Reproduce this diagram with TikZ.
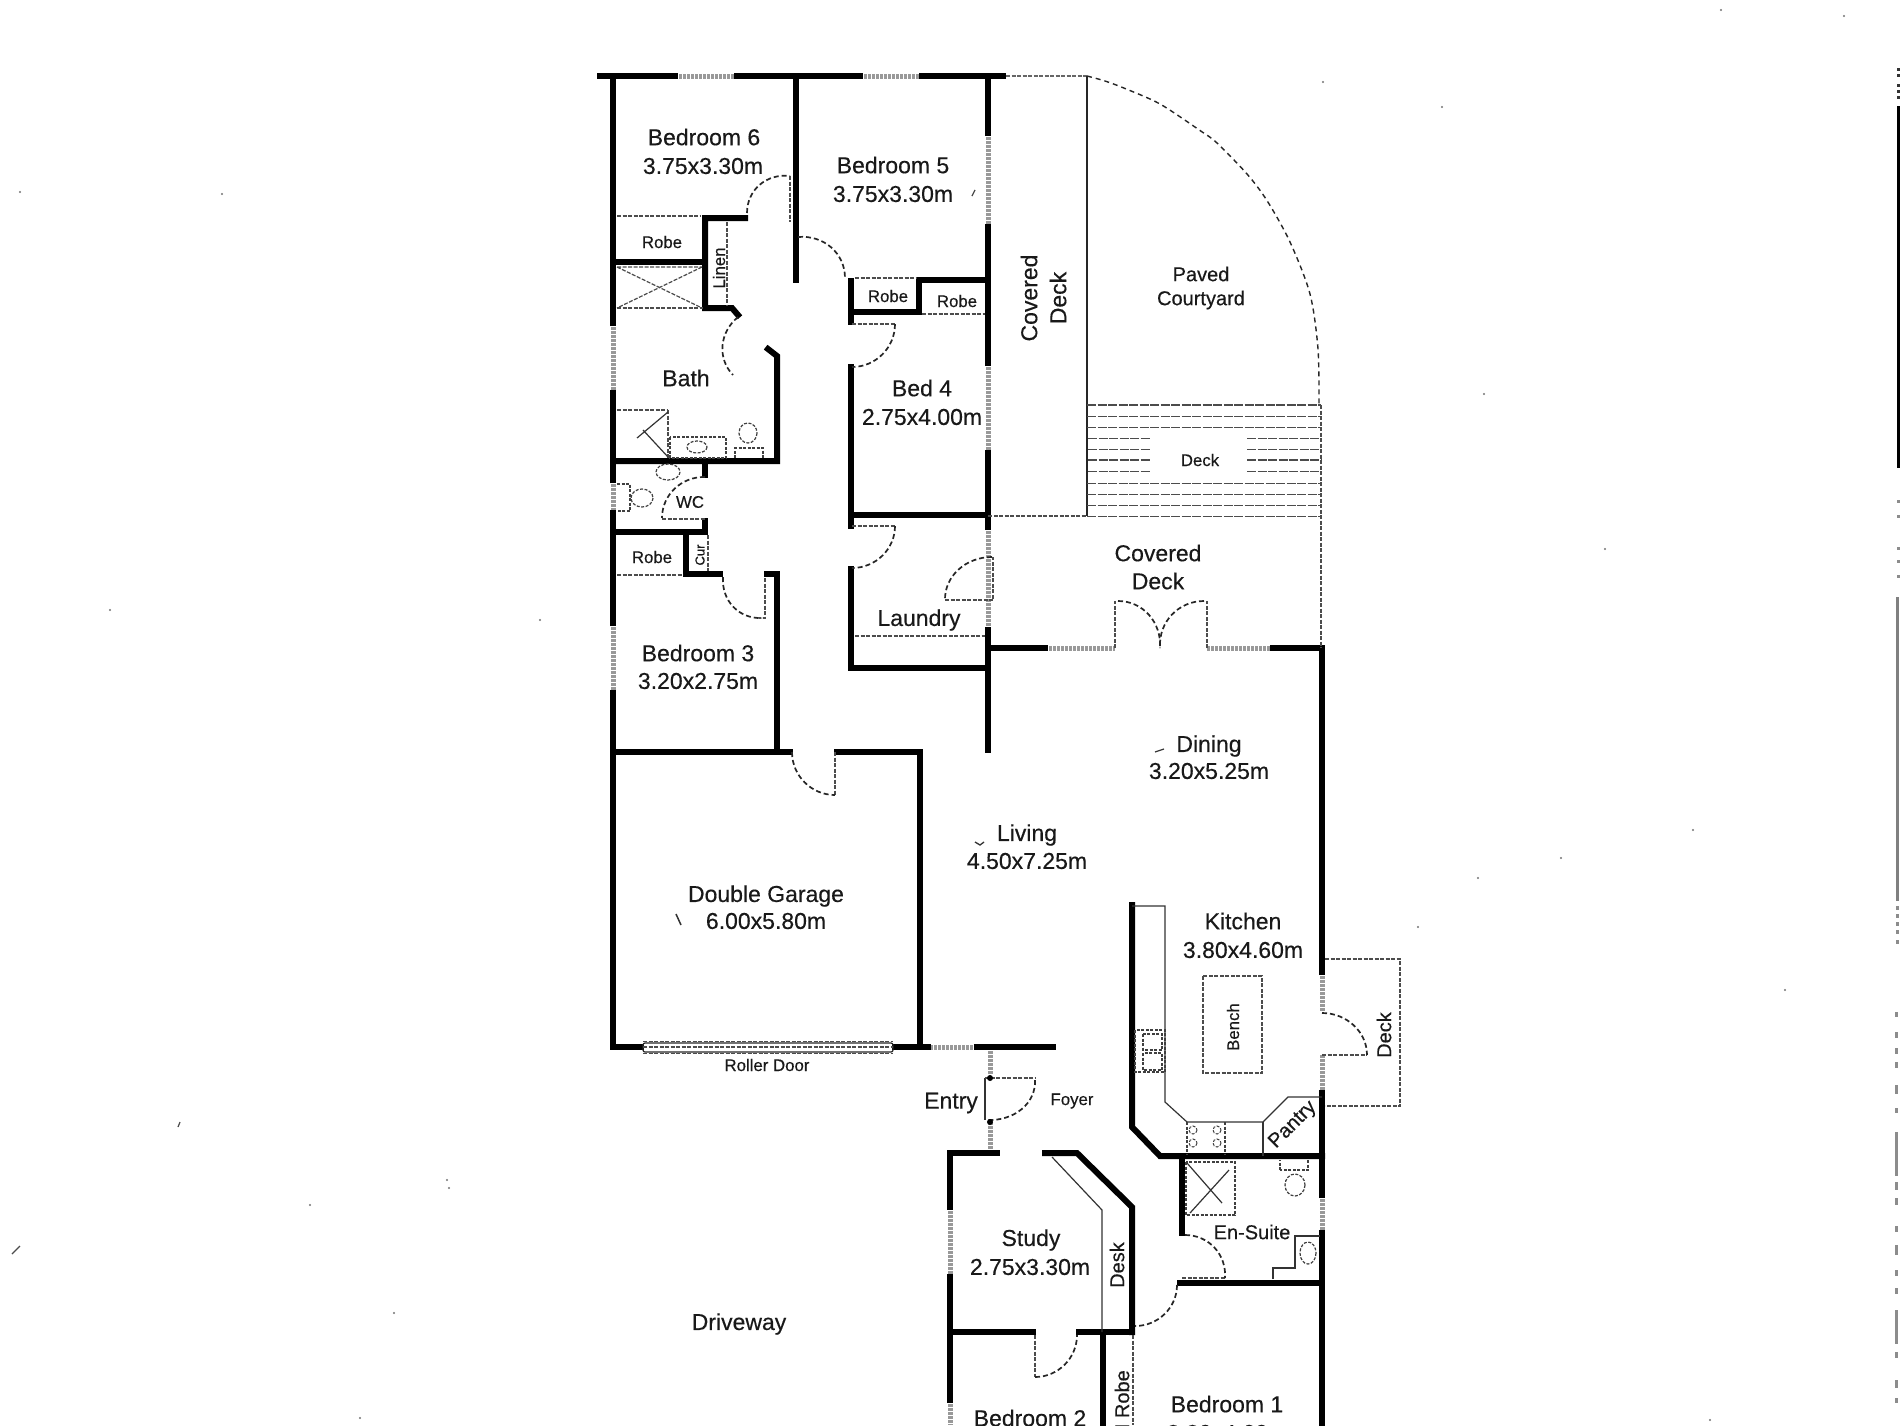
\documentclass[tikz,border=0pt]{standalone}
\usepackage{fontspec}
\setmainfont[FakeBold=0.35]{Liberation Sans}
\newcommand\dooarc[6]{\draw[doorarc] (#1,#2) .. controls ({#1+.55*(#3-#5)},{#2+.55*(#4-#6)}) and ({#3+.55*(#1-#5)},{#4+.55*(#2-#6)}) .. (#3,#4);}
\tikzset{
 wall/.style={line width=6pt,black,line cap=rect,line join=miter},
 glazing/.style={line width=5pt,black!40,dash pattern=on 2.5pt off 1.5pt},
 thinln/.style={line width=1.2pt,black!80},
 dashln/.style={line width=1.2pt,black!70,dash pattern=on 4pt off 1.5pt},
 doorarc/.style={line width=1.7pt,black!85,dash pattern=on 5pt off 3pt},
 fixture/.style={line width=1.2pt,black!75,dash pattern=on 3pt off 1.5pt},
 lblL/.style={inner sep=0pt,text=black!90,font=\fontsize{23}{26}\selectfont},
 lblM/.style={inner sep=0pt,text=black!90,font=\fontsize{20}{23}\selectfont},
 lblS/.style={inner sep=0pt,text=black!90,font=\fontsize{16.8}{19}\selectfont},
}
\begin{document}
\begin{tikzpicture}[x=1pt,y=-1pt]
\useasboundingbox (0,0) rectangle (1900,1425);
\clip (0,0) rectangle (1900,1425);
\fill[white] (0,0) rectangle (1900,1425);

% --- glazing (windows)
\foreach \a/\b/\c/\d in {675/76/737/76, 860/76/922/76,
  613/323/613/393, 613/480/613/513, 613/623/613/693,
  988/133/988/227, 988/363/988/453, 988/527/988/630,
  1045/648/1115/648, 1207/648/1273/648,
  1322/972/1322/1012, 1322/1055/1322/1093, 1322/1195/1322/1233,
  950/1207/950/1277, 950/1400/950/1425,
  990/1047/990/1075, 990/1122/990/1150, 930/1047/975/1047}
  \draw[glazing] (\a,\b) -- (\c,\d);

% --- walls, top block
\draw[wall] (600,76) -- (675,76);
\draw[wall] (737,76) -- (860,76);
\draw[wall] (922,76) -- (1003,76);
\draw[wall] (613,76) -- (613,323);
\draw[wall] (613,393) -- (613,480);
\draw[wall] (613,513) -- (613,623);
\draw[wall] (613,693) -- (613,1047);
\draw[wall] (796,76) -- (796,280);
\draw[wall] (988,76) -- (988,133);
\draw[wall] (988,227) -- (988,363);
\draw[wall] (988,453) -- (988,527);
\draw[wall] (988,630) -- (988,750);
% bedroom 6 robe / linen
\draw[wall] (745,218) -- (705,218) -- (705,308) -- (732,308) -- (738,315);
\draw[wall] (613,262) -- (705,262);
% bath
\draw[wall] (768,349) -- (777,356) -- (777,461) -- (613,461);
\draw[wall] (705,461) -- (705,475);
% WC / lower robe
\draw[wall] (705,521) -- (705,532) -- (613,532);
\draw[wall] (686,532) -- (686,574) -- (720,574);
\draw[wall] (767,574) -- (777,574) -- (777,752);
% garage
\draw[wall] (613,752) -- (790,752);
\draw[wall] (837,752) -- (920,752) -- (920,1047);
\draw[wall] (613,1047) -- (641,1047);
\draw[wall] (895,1047) -- (928,1047);
\draw[wall] (977,1047) -- (1053,1047);
% bed 5 robes, bed 4, laundry
\draw[wall] (851,322) -- (851,281);
\draw[wall] (851,312) -- (919,312) -- (919,280) -- (988,280);
\draw[wall] (851,367) -- (851,515) -- (988,515);
\draw[wall] (851,515) -- (851,526);
\draw[wall] (851,569) -- (851,668) -- (988,668);
% dining and kitchen
\draw[wall] (988,648) -- (1045,648);
\draw[wall] (1273,648) -- (1322,648) -- (1322,972);
\draw[wall] (1322,1093) -- (1322,1195);
\draw[wall] (1322,1233) -- (1322,1425);
\draw[wall] (1132,905) -- (1132,1127) -- (1160,1156) -- (1322,1156);
\draw[wall] (1182,1156) -- (1182,1233);
\draw[wall] (1180,1283) -- (1322,1283);
% study
\draw[wall] (997,1153) -- (950,1153) -- (950,1207);
\draw[wall] (950,1277) -- (950,1400);
\draw[wall] (1045,1153) -- (1077,1153) -- (1132,1207) -- (1132,1332);
\draw[wall] (950,1332) -- (1033,1332);
\draw[wall] (1079,1332) -- (1132,1332);
\draw[wall] (1103,1332) -- (1103,1430);

% --- roller door
\draw[line width=1.2pt,black!85,rounded corners=2pt] (643,1043) rectangle (893,1052);
\draw[dashln,line width=1pt] (643,1041) -- (893,1041);
\draw[dashln,line width=1.4pt] (643,1047) -- (893,1047);
\draw[dashln,line width=1pt] (643,1053) -- (893,1053);

% --- outdoor: courtyard, decks
\draw[dashln,black!60] (1006,76) -- (1087,76);
\draw[line width=1.6pt,black!85] (1087,76) -- (1087,516);
\draw[doorarc,dash pattern=on 5pt off 4pt,line width=1.4pt] plot[smooth] coordinates {(1087,76) (1105,81) (1125,88.5) (1160,104) (1200,130.5) (1217,143) (1247,174) (1267,200.6) (1290,242) (1310,294) (1318,349) (1319,405)};
\foreach \yy/\ww in {405/1.5, 416/0.8, 427.5/1.5, 483/0.8, 494.5/1.4, 505.5/0.8, 516/1.0}
  \draw[dashln,line width=\ww pt,dash pattern=on 9pt off 1.5pt] (1087,\yy) -- (1321,\yy);
\foreach \yy/\ww in {438/0.8, 449/0.8, 460/1.4, 471/0.8} {
  \draw[dashln,line width=\ww pt,dash pattern=on 9pt off 1.5pt] (1088,\yy) -- (1150,\yy);
  \draw[dashln,line width=\ww pt,dash pattern=on 9pt off 1.5pt] (1247,\yy) -- (1321,\yy);
}
\draw[dashln] (988,516) -- (1087,516);
\draw[dashln] (1321,405) -- (1321,648);
% french doors
\draw[dashln] (1115,648) -- (1115,601);
\draw[dashln] (1207,648) -- (1207,601);
\dooarc{1118}{601}{1160}{648}{1115}{648}
\dooarc{1204}{601}{1160}{648}{1207}{648}
% kitchen deck
\draw[dashln] (1325,959) -- (1400,959) -- (1400,1106) -- (1325,1106);
\draw[dashln] (1322,1055) -- (1367,1055);
\dooarc{1322}{1013}{1367}{1055}{1322}{1055}

% --- doors
\dooarc{747}{213}{790}{176}{790}{218}
\draw[dashln] (790,176) -- (790,222);
\dooarc{798}{237}{845}{278}{798}{282}
\draw[dashln] (852,324) -- (895,324);
\dooarc{895}{324}{852}{367}{852}{324}
\dooarc{738}{317}{733}{375}{767}{347}
\dooarc{705}{477}{662}{518}{705}{519}
\draw[dashln] (662,519) -- (705,519);
\dooarc{723}{577}{762}{618}{765}{575}
\draw[dashln] (765,578) -- (765,618) -- (759,618);
\draw[dashln] (852,526) -- (895,526);
\dooarc{895}{526}{852}{568}{852}{526}
\dooarc{992}{557}{945}{600}{993}{600}
\draw[dashln] (945,600) -- (993,600) -- (993,557);
\draw[dashln] (835,752) -- (835,795);
\dooarc{792}{752}{835}{795}{835}{752}
\draw[thinln] (985,1078) -- (985,1120);
\draw[dashln] (985,1078) -- (1035,1078);
\dooarc{1035}{1080}{987}{1120}{985}{1078}
\fill (990,1078) circle (3) (990,1122) circle (3);
\draw[dashln] (1035,1335) -- (1035,1377);
\dooarc{1035}{1377}{1077}{1335}{1035}{1335}
\draw[dashln] (1182,1278) -- (1225,1278);
\dooarc{1185}{1235}{1225}{1278}{1182}{1278}
\dooarc{1177}{1285}{1135}{1326}{1135}{1285}

% --- thin partitions
\draw[dashln] (617,216) -- (700,216);
\draw[dashln] (727,222) -- (727,306);
\draw[dashln] (617,308) -- (703,308);
\draw[dashln] (617,267) -- (702,308) (702,267) -- (617,308) (617,267) -- (702,267);
\draw[dashln] (855,278) -- (917,278);
\draw[dashln] (922,314) -- (985,314);
\draw[dashln] (617,575) -- (683,575);
\draw[dashln] (708,535) -- (708,571);
\draw[dashln] (855,636) -- (985,636);

% --- bath fixtures
\draw[dashln,line width=1.5pt] (617,410) -- (668,410);
\draw[dashln] (668,410) -- (668,458);
\draw[thinln] (668,412) -- (637,438) (643,430) -- (668,457);
\draw[fixture] (670,437) rectangle (726,458);
\draw[fixture] (697,447) ellipse (10 and 6);
\draw[fixture] (735,458) -- (735,448) -- (763,448) -- (763,458);
\draw[fixture] (748,433) ellipse (9 and 10);
% WC fixtures
\draw[fixture] (668,472) ellipse (12 and 8);
\draw[fixture] (642,498) ellipse (11 and 9);
\draw[fixture] (617,484) -- (630,484) -- (630,511) -- (617,511);

% --- kitchen fixtures
\draw[thinln] (1132,906) -- (1165,906) -- (1165,1102) -- (1187,1122) -- (1263,1122) -- (1288,1097) -- (1322,1097);
\draw[thinln] (1263,1122) -- (1263,1156);
\draw[fixture] (1187,1122) -- (1187,1154) (1225,1122) -- (1225,1154);
\foreach \a/\b in {1193/1130, 1217/1130, 1193/1143, 1217/1143}
  \draw[fixture,line width=1pt] (\a,\b) circle (4);
\draw[fixture] (1135,1030) rectangle (1165,1072);
\draw[fixture] (1143,1034) rectangle (1162,1050);
\draw[fixture] (1143,1053) rectangle (1162,1070);
\draw[dashln] (1203,976) rectangle (1262,1073);

% --- en-suite fixtures
\draw[fixture,line width=1.6pt] (1186,1162) rectangle (1235,1215);
\draw[thinln] (1187,1163) -- (1222,1203) (1229,1170) -- (1190,1213);
\draw[fixture] (1280,1170) -- (1280,1160) (1308,1160) -- (1308,1170) -- (1280,1170);
\draw[fixture] (1295,1185) ellipse (10 and 11);
\draw[thinln] (1273,1279) -- (1273,1268) -- (1295,1268) -- (1295,1236) -- (1320,1236);
\draw[fixture] (1308,1253) ellipse (8 and 11);

% --- study desk and robe
\draw[thinln] (1052,1157) -- (1102,1210) -- (1102,1332);
\draw[dashln] (1133,1335) -- (1133,1425);

% --- labels
\node[lblL] (t1) at (704,137) {Bedroom 6};
\node[lblL] (t2) at (703,166) {3.75x3.30m};
\node[lblL] (t3) at (893,165) {Bedroom 5};
\node[lblL] (t4) at (893,194) {3.75x3.30m};
\node[lblS] (t5) at (662,242) {Robe};
\node[lblS,rotate=90] (t6) at (719,268) {Linen};
\node[lblS] (t7) at (888,296) {Robe};
\node[lblS] (t8) at (957,301) {Robe};
\node[lblL] (t9) at (686,378) {Bath};
\node[lblL] (t10) at (922,388) {Bed 4};
\node[lblL] (t11) at (922,417) {2.75x4.00m};
\node[lblS] (t12) at (690,502) {WC};
\node[lblS] (t13) at (652,557) {Robe};
\node[inner sep=0pt,text=black!90,font=\fontsize{13}{15}\selectfont,rotate=90] (t14) at (700,555) {Cur};
\node[lblL] (t15) at (698,653) {Bedroom 3};
\node[lblL] (t16) at (698,681) {3.20x2.75m};
\node[lblL] (t17) at (919,620) {Laundry};
\node[lblL] (t18) at (766,896) {Double Garage};
\node[lblL] (t19) at (766,921) {6.00x5.80m};
\node[lblL] (t20) at (1027,835) {Living};
\node[lblL] (t21) at (1027,861) {4.50x7.25m};
\node[lblL] (t22) at (1209,746) {Dining};
\node[lblL] (t23) at (1209,771) {3.20x5.25m};
\node[lblL] (t24) at (1243,921) {Kitchen};
\node[lblL] (t25) at (1243,950) {3.80x4.60m};
\node[lblL] (t26) at (1158,553) {Covered};
\node[lblL] (t27) at (1158,581) {Deck};
\node[lblL,rotate=90] (t28) at (1029,298) {Covered};
\node[lblL,rotate=90] (t29) at (1058,298) {Deck};
\node[lblM] (t30) at (1201,274) {Paved};
\node[lblM] (t31) at (1201,300) {Courtyard};
\node[lblS] (t32) at (1200,460) {Deck};
\node[lblS] (t33) at (767,1065) {Roller Door};
\node[lblL] (t34) at (951,1103) {Entry};
\node[lblS] (t35) at (1072,1101) {Foyer};
\node[lblL] (t36) at (1031,1240) {Study};
\node[lblL] (t37) at (1030,1267) {2.75x3.30m};
\node[lblM,rotate=90] (t38) at (1117,1265) {Desk};
\node[lblM] (t39) at (1252,1232) {En-Suite};
\node[lblM,rotate=45] (t40) at (1293,1125) {Pantry};
\node[lblS,rotate=90] (t41) at (1233,1027) {Bench};
\node[lblM,rotate=90] (t42) at (1384,1035) {Deck};
\node[lblL] (t43) at (739,1324) {Driveway};
\node[lblL] (t44) at (1030,1418) {Bedroom 2};
\node[lblL] (t45) at (1227,1404) {Bedroom 1};
\node[lblL] (t46) at (1227,1433) {3.80x4.60m};
\node[lblM,rotate=90,anchor=east] (t47) at (1122,1370) {W/I Robe};

% --- stray marks
\draw[line width=1.3pt,black!80] (975,842) -- (980,845) -- (984,842);
\draw[line width=1.5pt,black!80] (676,914) -- (681,925);
\draw[line width=1.2pt,black!80] (1155,752) -- (1164,749);
\draw[line width=1.2pt,black!70] (972,196) -- (975,190);
\draw[line width=1.2pt,black!70] (12,1254) -- (20,1246);
\draw[line width=1.2pt,black!70] (178,1127) -- (180,1122);
\foreach \a/\b in {1721/10,1844/16,222/194,20/192,1323/82,1442/107,1484/394,1605/549,1693/830,1561/858,1478/878,1418/927,449/1188,394/1313,360/1418,310/1205,447/1180,1710/1420,1785/990,540/620,110/610}
  \fill[black!55] (\a,\b) circle (1.2);

% --- scan marks at the right edge
\fill[black] (1897,106) rectangle (1900,468);
\foreach \yy in {68,74,84,90,96}
  \fill[black!80] (1897,\yy) rectangle (1900,\yy+3);
\foreach \yy in {500,515,547,560,575}
  \fill[black!45] (1897,\yy) rectangle (1900,\yy+3);
\fill[black!50] (1896,597) rectangle (1899,901);
\foreach \yy in {906,914,922,930,940}
  \fill[black!45] (1896,\yy) rectangle (1899,\yy+4);
\foreach \yy/\hh in {1012/5,1032/6,1048/6,1062/6,1085/9,1108/5,1132/44,1182/8,1198/7,1226/6,1245/10,1270/6,1288/6,1310/34,1352/6,1380/8,1398/5}
  \fill[black!45] (1895,\yy) rectangle (1898,\yy+\hh);
\end{tikzpicture}
\end{document}
